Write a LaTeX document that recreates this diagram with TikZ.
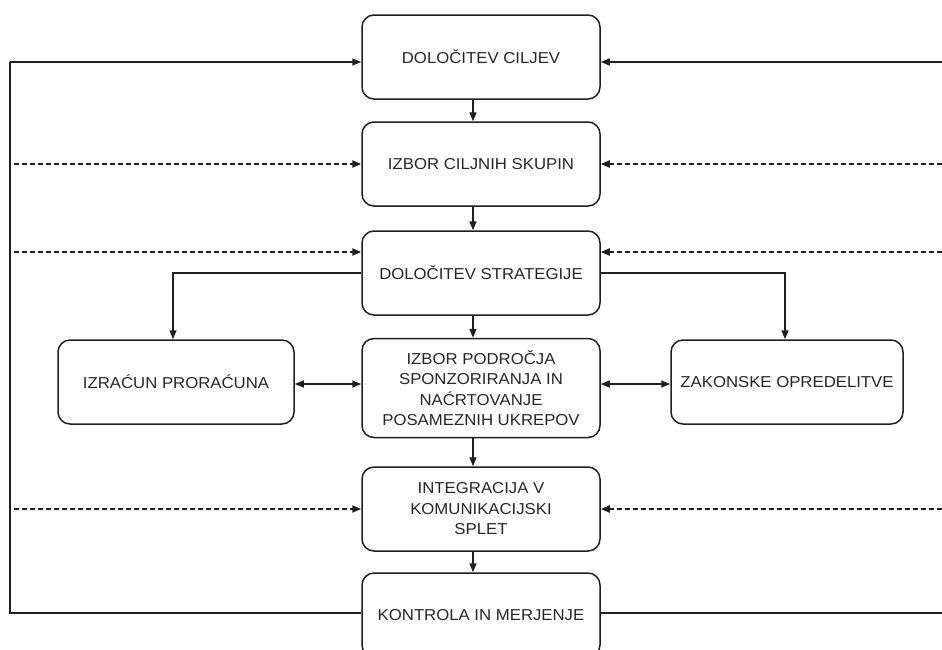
\documentclass[tikz,border=0pt]{standalone}
\usepackage{fontspec}
\setmainfont{Liberation Sans}[FakeStretch=1.06]
\usetikzlibrary{arrows.meta}
\begin{document}
\begin{tikzpicture}[x=1pt,y=-1pt,
  box/.style={draw=black!88, line width=1.5pt, rounded corners=12pt, align=center,
    minimum width=238pt, minimum height=84pt, inner sep=0pt,
    font=\fontsize{15.8}{20.5}\selectfont, text=black!85},
  sidebox/.style={box, minimum width=236pt},
  conn/.style={draw=black!88, line width=1.5pt, -{Triangle[length=9pt,width=7pt]}},
  dconn/.style={conn, line width=2pt, dash pattern=on 5pt off 3pt},
  bconn/.style={draw=black!88, line width=1.5pt, {Triangle[length=9pt,width=7pt]}-{Triangle[length=9pt,width=7pt]}},
  plain/.style={draw=black!88, line width=1.5pt}]
\useasboundingbox (0,0) rectangle (942,649);
% main boxes
\node[box] (b1) at (481,57) {DOLOČITEV CILJEV};
\node[box] (b2) at (481,164) {IZBOR CILJNIH SKUPIN};
\node[box] (b3) at (481,273) {DOLOČITEV STRATEGIJE};
\node[box, minimum height=99pt] (b4) at (481,388) {IZBOR PODROČJA\\SPONZORIRANJA IN\\NAĆRTOVANJE\\POSAMEZNIH UKREPOV};
\node[box] (b5) at (481,509) {INTEGRACIJA V\\KOMUNIKACIJSKI\\SPLET};
\node[box] (b6) at (481,615) {KONTROLA IN MERJENJE};
\node[sidebox] (L) at (176,382) {IZRAĆUN PRORAĆUNA};
\node[sidebox, minimum width=232pt] (R) at (787,382) {ZAKONSKE OPREDELITVE};
% helper coordinates
\coordinate (lx) at (10,0);
\coordinate (rx) at (942,0);
\coordinate (dl) at (14,0);
% vertical flow
\draw[conn] ([xshift=-8pt]b1.south) -- ([xshift=-8pt]b2.north);
\draw[conn] ([xshift=-8pt]b2.south) -- ([xshift=-8pt]b3.north);
\draw[conn] ([xshift=-8pt]b3.south) -- ([xshift=-8pt]b4.north);
\draw[conn] ([xshift=-8pt]b4.south) -- ([xshift=-8pt]b5.north);
\draw[conn] ([xshift=-8pt]b5.south) -- ([xshift=-8pt]b6.north);
% branches from strategy
\draw[conn] (b3.west) -| ([xshift=-3pt]L.north);
\draw[conn] (b3.east) -| ([xshift=-2pt]R.north);
% double arrows
\draw[bconn] ([yshift=-2pt]L.east) -- ([yshift=-2pt]L.east -| b4.west);
\draw[bconn] ([yshift=-2pt]R.west -| b4.east) -- ([yshift=-2pt]R.west);
% feedback loops
\draw[plain] ([yshift=2pt]b6.west) -- ([yshift=2pt]b6.west -| lx) -- ([yshift=-5pt]b1.west -| lx);
\draw[conn] ([yshift=-5pt]b1.west -| lx) -- ([yshift=-5pt]b1.west);
\draw[plain] ([yshift=2pt]b6.east) -- ([yshift=2pt]b6.east -| rx);
\draw[conn] ([yshift=-5pt]b1.east -| rx) -- ([yshift=-5pt]b1.east);
% dashed inputs
\draw[dconn] (b2.west -| dl) -- (b2.west);
\draw[dconn] (b2.east -| rx) -- (b2.east);
\draw[dconn] ([yshift=21pt]b3.west -| dl) -- ([yshift=21pt]b3.west);
\draw[dconn] ([yshift=21pt]b3.east -| rx) -- ([yshift=21pt]b3.east);
\draw[dconn] (b5.west -| dl) -- (b5.west);
\draw[dconn] (b5.east -| rx) -- (b5.east);
\end{tikzpicture}
\end{document}
